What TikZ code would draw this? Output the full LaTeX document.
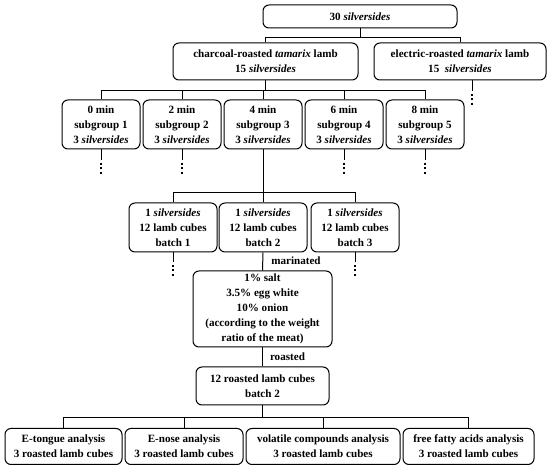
\documentclass[tikz,border=0pt]{standalone}
\usepackage{fontspec}
\setmainfont{Liberation Serif}
\usetikzlibrary{calc}
\begin{document}
\begin{tikzpicture}[x=1pt,y=-1pt,
  box/.style={draw, line width=1pt, rounded corners=6pt, align=center, inner sep=0pt,
    font=\fontsize{11.1}{15}\selectfont\bfseries},
  conn/.style={line width=1pt},
  dotline/.style={line width=2.2pt, dash pattern=on 2pt off 2.4pt},
  lab/.style={font=\fontsize{11.1}{15}\selectfont\bfseries, inner sep=0pt}
]
\useasboundingbox (0,0) rectangle (550,468);
% nodes
\node[box, minimum width=194pt, minimum height=23pt] (top) at (360,16.5) {30 \textit{silversides}};
\node[box, minimum width=185pt, minimum height=37pt] (charcoal) at (265.5,61.5) {charcoal-roasted \textit{tamarix} lamb\\15 \textit{silversides}};
\node[box, minimum width=172pt, minimum height=37pt] (electric) at (460,61.5) {electric-roasted \textit{tamarix} lamb\\15\ \ \textit{silversides}};
\foreach \i/\x/\m in {1/101/0,2/182/2,3/263/4,4/344/6,5/425/8}{
  \node[box, minimum width=78pt, minimum height=49pt] (s\i) at (\x,124.5) {\m{} min\\subgroup \i\\3 \textit{silversides}};
}
\foreach \i/\x in {1/173,2/263,3/355}{
  \node[box, minimum width=88pt, minimum height=49pt] (b\i) at (\x,227.5) {1 \textit{silversides}\\12 lamb cubes\\batch \i};
}
\node[box, minimum width=139pt, minimum height=76pt] (mar) at (262.5,309) {1\% salt\\3.5\% egg white\\10\% onion\\(according to the weight\\ratio of the meat)};
\node[box, minimum width=133pt, minimum height=38pt] (roast) at (262.5,386) {12 roasted lamb cubes\\batch 2};
\node[box, minimum width=117pt, minimum height=36pt] (A) at (63.5,446.5) {E-tongue analysis\\3 roasted lamb cubes};
\node[box, minimum width=118pt, minimum height=36pt] (B) at (184,446.5) {E-nose analysis\\3 roasted lamb cubes};
\node[box, minimum width=154pt, minimum height=36pt] (C) at (323,446.5) {volatile compounds analysis\\3 roasted lamb cubes};
\node[box, minimum width=131pt, minimum height=36pt] (D) at (468.5,446.5) {free fatty acids analysis\\3 roasted lamb cubes};
% levels
\coordinate (h1) at (0,38);
\coordinate (h2) at (0,91);
\coordinate (h3) at (0,193);
\coordinate (h4) at (0,418);
% connectors level 1
\draw[conn] (top.south) -- (top.south |- h1);
\draw[conn] (charcoal.north) |- (electric.north |- h1) -- (electric.north);
% level 2
\draw[conn] (charcoal.south) -- (charcoal.south |- h2);
\draw[conn] (s1.north) |- (s5.north |- h2) -- (s5.north);
\foreach \i in {2,3,4}{\draw[conn] (s\i.north) -- (s\i.north |- h2);}
% level 3
\draw[conn] (s3.south) -- (s3.south |- h3);
\draw[conn] (b1.north) |- (b3.north |- h3) -- (b3.north);
\draw[conn] (b2.north) -- (b2.north |- h3);
% marinated / roasted
\draw[conn] (b2.south) -- node[lab, right=8pt, pos=0.45] (mlab) {marinated} (mar.north);
\draw[conn] (mar.south) -- node[lab, right=7pt, pos=0.5] (rlab) {roasted} (roast.north);
% level 4
\draw[conn] (roast.south) -- (roast.south |- h4);
\draw[conn] (A.north) |- (D.north |- h4) -- (D.north);
\draw[conn] (B.north) -- (B.north |- h4);
\draw[conn] (C.north) -- (C.north |- h4);
% continuation dots
\foreach \n in {s1,s2,s4,s5}{
  \draw[conn] (\n.south) -- ++(0,11) coordinate (\n-d);
  \draw[dotline] (\n-d) ++(0,2.5) -- ++(0,11);
}
\foreach \n in {b1,b3}{
  \draw[conn] (\n.south) -- ++(0,10) coordinate (\n-d);
  \draw[dotline] (\n-d) ++(0,2.5) -- ++(0,11);
}
\draw[conn] ($(electric.south)+(12,0)$) coordinate (e-s) -- ++(0,11) coordinate (e-d);
\draw[dotline] (e-d) ++(0,2.5) -- ++(0,11);
\end{tikzpicture}
\end{document}
